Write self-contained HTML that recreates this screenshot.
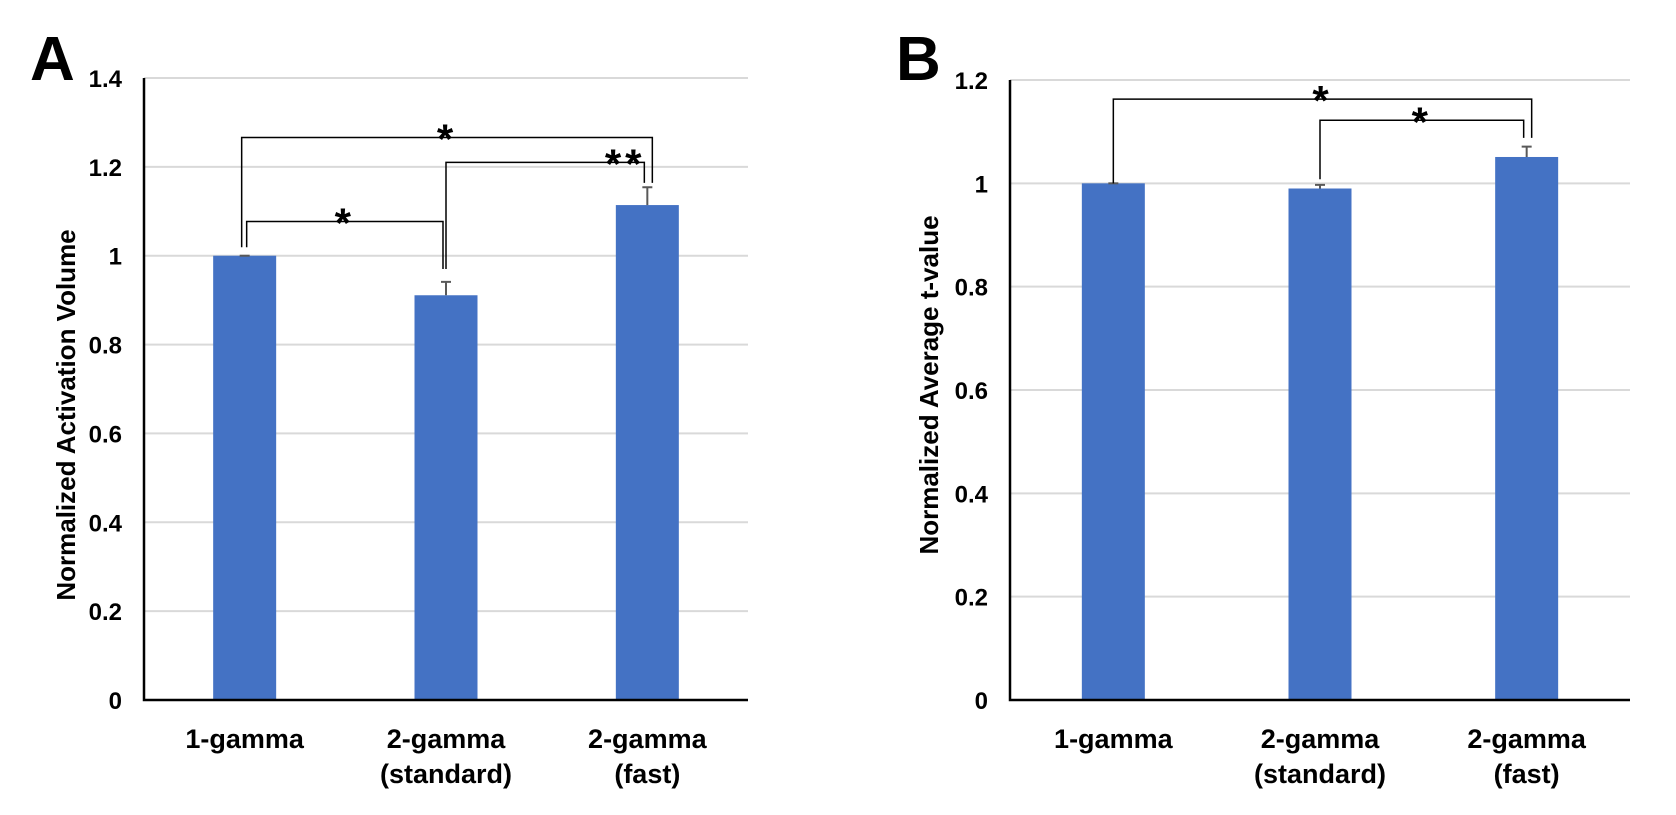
<!DOCTYPE html>
<html><head><meta charset="utf-8"><style>
html,body{margin:0;padding:0;background:#fff}
svg{display:block}
text{font-family:"Liberation Sans",Arial,sans-serif;font-weight:bold;fill:#000}
</style></head><body>
<svg id="fig" width="1676" height="815" viewBox="0 0 1676 815" xmlns="http://www.w3.org/2000/svg"></svg>
<script>
const categories = ["1-gamma|", "2-gamma|(standard)", "2-gamma|(fast)"];
const valuesA = [1.0, 0.911, 1.114];
const errorsA = [0.0, 0.030, 0.040];
const ticksA = [0, 0.2, 0.4, 0.6, 0.8, 1, 1.2, 1.4];
const valuesB = [1.0, 0.990, 1.051];
const errorsB = [0.0, 0.007, 0.020];
const ticksB = [0, 0.2, 0.4, 0.6, 0.8, 1, 1.2];
// brackets: [fromIdx, toIdx, level, leftDrop, rightDrop, label]
const bracketsA = [[0, 2, 1.266, 1.019, 1.164, "*"], [1, 2, 1.21, 0.97, 1.164, "**"], [0, 1, 1.077, 1.019, 0.97, "*"]];
const bracketsB = [[0, 2, 1.163, 1.0, 1.088, "*"], [1, 2, 1.122, 1.008, 1.088, "*"]];

const NS = "http://www.w3.org/2000/svg";
const svg = document.getElementById("fig");
function mk(tag, attrs, parent) {
  const e = document.createElementNS(NS, tag);
  for (const k in attrs) e.setAttribute(k, attrs[k]);
  (parent || svg).appendChild(e);
  return e;
}
function panel(p) {
  const g = mk("g", {});
  
  
  const y = v => p.y0 - (v / p.max) * (p.y0 - p.yTop);
  const band = (p.x1 - p.x0) / categories.length;
  const cx = i => p.x0 + band * (i + 0.5);
  p.ticks.forEach(t => {
    if (t > 0) {
      const l = mk("line", {x1: p.x0, x2: p.x1, y1: y(t), y2: y(t), stroke: "#d9d9d9", "stroke-width": 2}, g);
      
      
    }
    const tx = mk("text", {x: p.x0 - 22, y: y(t) + 9, "text-anchor": "end", "font-size": 24}, g);
    tx.textContent = String(t);
    
    
  });
  p.values.forEach((v, i) => {
    const b = mk("rect", {x: cx(i) - 31.5, y: y(v), width: 63, height: p.y0 - y(v), fill: "#4472c4"}, g);
    
    
    const e = p.errors[i];
    const el = mk("path", {d: `M${cx(i)} ${y(v)}V${y(v + e)}M${cx(i) - 5} ${y(v + e)}H${cx(i) + 5}`, stroke: "#595959", "stroke-width": 2, fill: "none"}, g);
    
    
    const parts = categories[i].split("|");
    parts.forEach((s, k) => {
      if (!s) return;
      const t = mk("text", {x: cx(i), y: 748 + k * 35, "text-anchor": "middle", "font-size": 27}, g);
      t.textContent = s;
      
      
    });
  });
  const ax = mk("path", {d: `M${p.x0} ${p.yTop}V${p.y0}H${p.x1}`, stroke: "#000", "stroke-width": 2.5, fill: "none"}, g);
  
  
  p.brackets.forEach((br, j) => {
    const xl = cx(br[0]) + (j === 2 && p.name === 'panel-a' ? 2 : 0) - (p.name === 'panel-a' && j === 0 ? 3 : 0);
    const xr = cx(br[1]) + (j === 0 ? 5 : -3);
    const bl = mk("path", {d: `M${xl} ${y(br[3])}V${y(br[2])}H${xr}V${y(br[4])}`, stroke: "#000", "stroke-width": 1.5, fill: "none"}, g);
    
    
    const st = mk("text", {x: (xl + xr) / 2 + (br[5] === "**" ? 80 : 0), y: y(br[2]) + 16, "text-anchor": "middle", "font-size": 42, "font-weight": "normal", "letter-spacing": 4}, g);
    st.textContent = br[5];
    
    
  });
  const yt = mk("text", {x: 0, y: 0, "text-anchor": "middle", "font-size": 26, transform: `translate(${p.titleX},${p.titleY}) rotate(-90)`}, g);
  yt.textContent = p.title;
  
  
  const lt = mk("text", {x: p.letterX, y: 80, "font-size": 62}, g);
  lt.textContent = p.letter;
  
  
}
panel({name: "panel-a", x0: 144, x1: 748, y0: 700, yTop: 78, max: 1.4, ticks: ticksA, values: valuesA, errors: errorsA, brackets: bracketsA, title: "Normalized Activation Volume", titleX: 75, titleY: 415, letter: "A", letterX: 30});
panel({name: "panel-b", x0: 1010, x1: 1630, y0: 700, yTop: 80, max: 1.2, ticks: ticksB, values: valuesB, errors: errorsB, brackets: bracketsB, title: "Normalized Average t-value", titleX: 938, titleY: 385, letter: "B", letterX: 896});
</script>
</body></html>
